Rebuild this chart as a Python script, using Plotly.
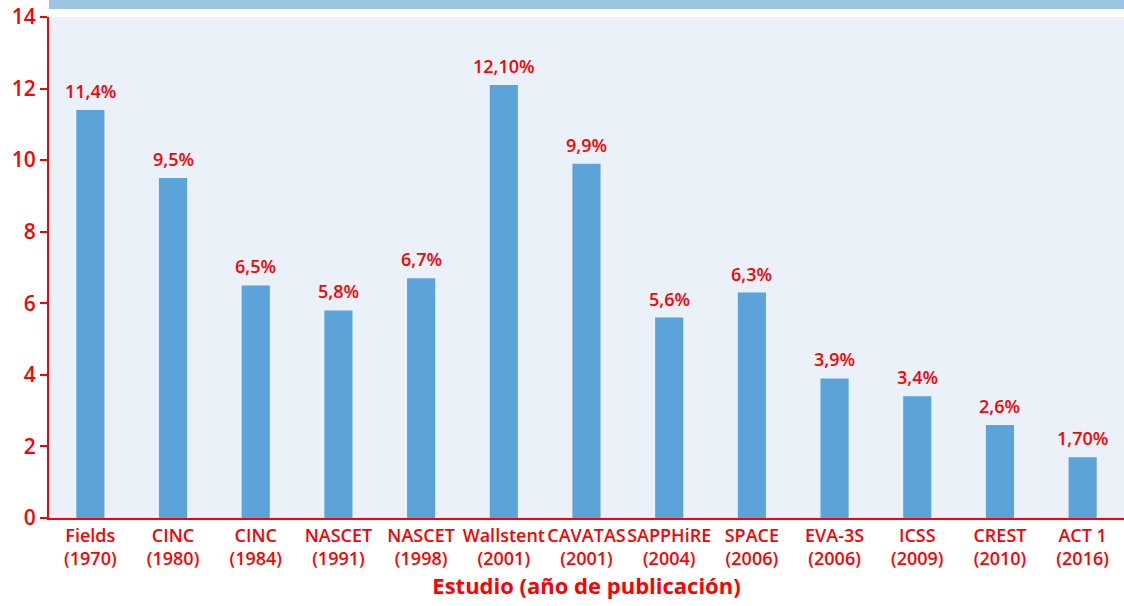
import plotly.graph_objects as go

studies = ["Fields", "CINC", "CINC", "NASCET", "NASCET", "Wallstent", "CAVATAS",
           "SAPPHiRE", "SPACE", "EVA-3S", "ICSS", "CREST", "ACT 1"]
years = ["1970", "1980", "1984", "1991", "1998", "2001", "2001",
         "2004", "2006", "2006", "2009", "2010", "2016"]
values = [11.4, 9.5, 6.5, 5.8, 6.7, 12.1, 9.9, 5.6, 6.3, 3.9, 3.4, 2.6, 1.7]
value_labels = ["11,4%", "9,5%", "6,5%", "5,8%", "6,7%", "12,10%", "9,9%",
                "5,6%", "6,3%", "3,9%", "3,4%", "2,6%", "1,70%"]
y_ticks = [0, 2, 4, 6, 8, 10, 12, 14]

categories = [f"{s}<br>({y})" for s, y in zip(studies, years)]
xs = list(range(len(categories)))
RED = "#ff0000"
FONT = "Open Sans"

fig = go.Figure()
fig.add_trace(go.Bar(
    x=xs, y=values,
    marker=dict(color="#5ba3d9", line=dict(width=0)),
    hoverinfo="skip",
))

annotations = [
    dict(x=x, y=v, text=t, xref="x", yref="y", showarrow=False,
         yanchor="bottom", yshift=5,
         font=dict(color=RED, size=18, family=FONT, weight=600))
    for x, v, t in zip(xs, values, value_labels)
]

H = 606
top, bottom = 17, 88
plot_h = H - top - bottom

fig.update_layout(
    width=1124, height=H,
    margin=dict(l=49, r=0, t=top, b=bottom, autoexpand=False),
    paper_bgcolor="white",
    plot_bgcolor="#eaf1f9",
    bargap=0.66,
    showlegend=False,
    font=dict(family=FONT, color=RED),
    xaxis=dict(
        tickmode="array",
        tickvals=xs,
        ticktext=categories,
        tickangle=0,
        range=[-0.5, len(categories) - 0.5],
        showgrid=False, zeroline=False, automargin=False,
        showline=True, linecolor=RED, linewidth=2,
        ticks="", tickfont=dict(size=18, color=RED, family=FONT, weight=600),
        title=dict(text="Estudio (año de publicación)", standoff=9,
                   font=dict(size=22, color=RED, family=FONT, weight=700)),
    ),
    yaxis=dict(
        range=[0, 14],
        tickmode="array", tickvals=y_ticks,
        showgrid=False, zeroline=False, automargin=False,
        showline=True, linecolor=RED, linewidth=2,
        ticks="outside", ticklen=7, tickwidth=2, tickcolor=RED,
        tickfont=dict(size=21, color=RED, family=FONT, weight=600),
    ),
    annotations=annotations,
    shapes=[dict(
        type="rect", xref="paper", yref="paper",
        x0=0, x1=1, y0=1 + 8 / plot_h, y1=1 + 17 / plot_h,
        fillcolor="#9dc3e6", line=dict(width=0), layer="below",
    )],
)

fig.write_html("out.html", config={"displayModeBar": False},
               post_script="document.body.style.margin='0';document.body.style.overflow='hidden';")
